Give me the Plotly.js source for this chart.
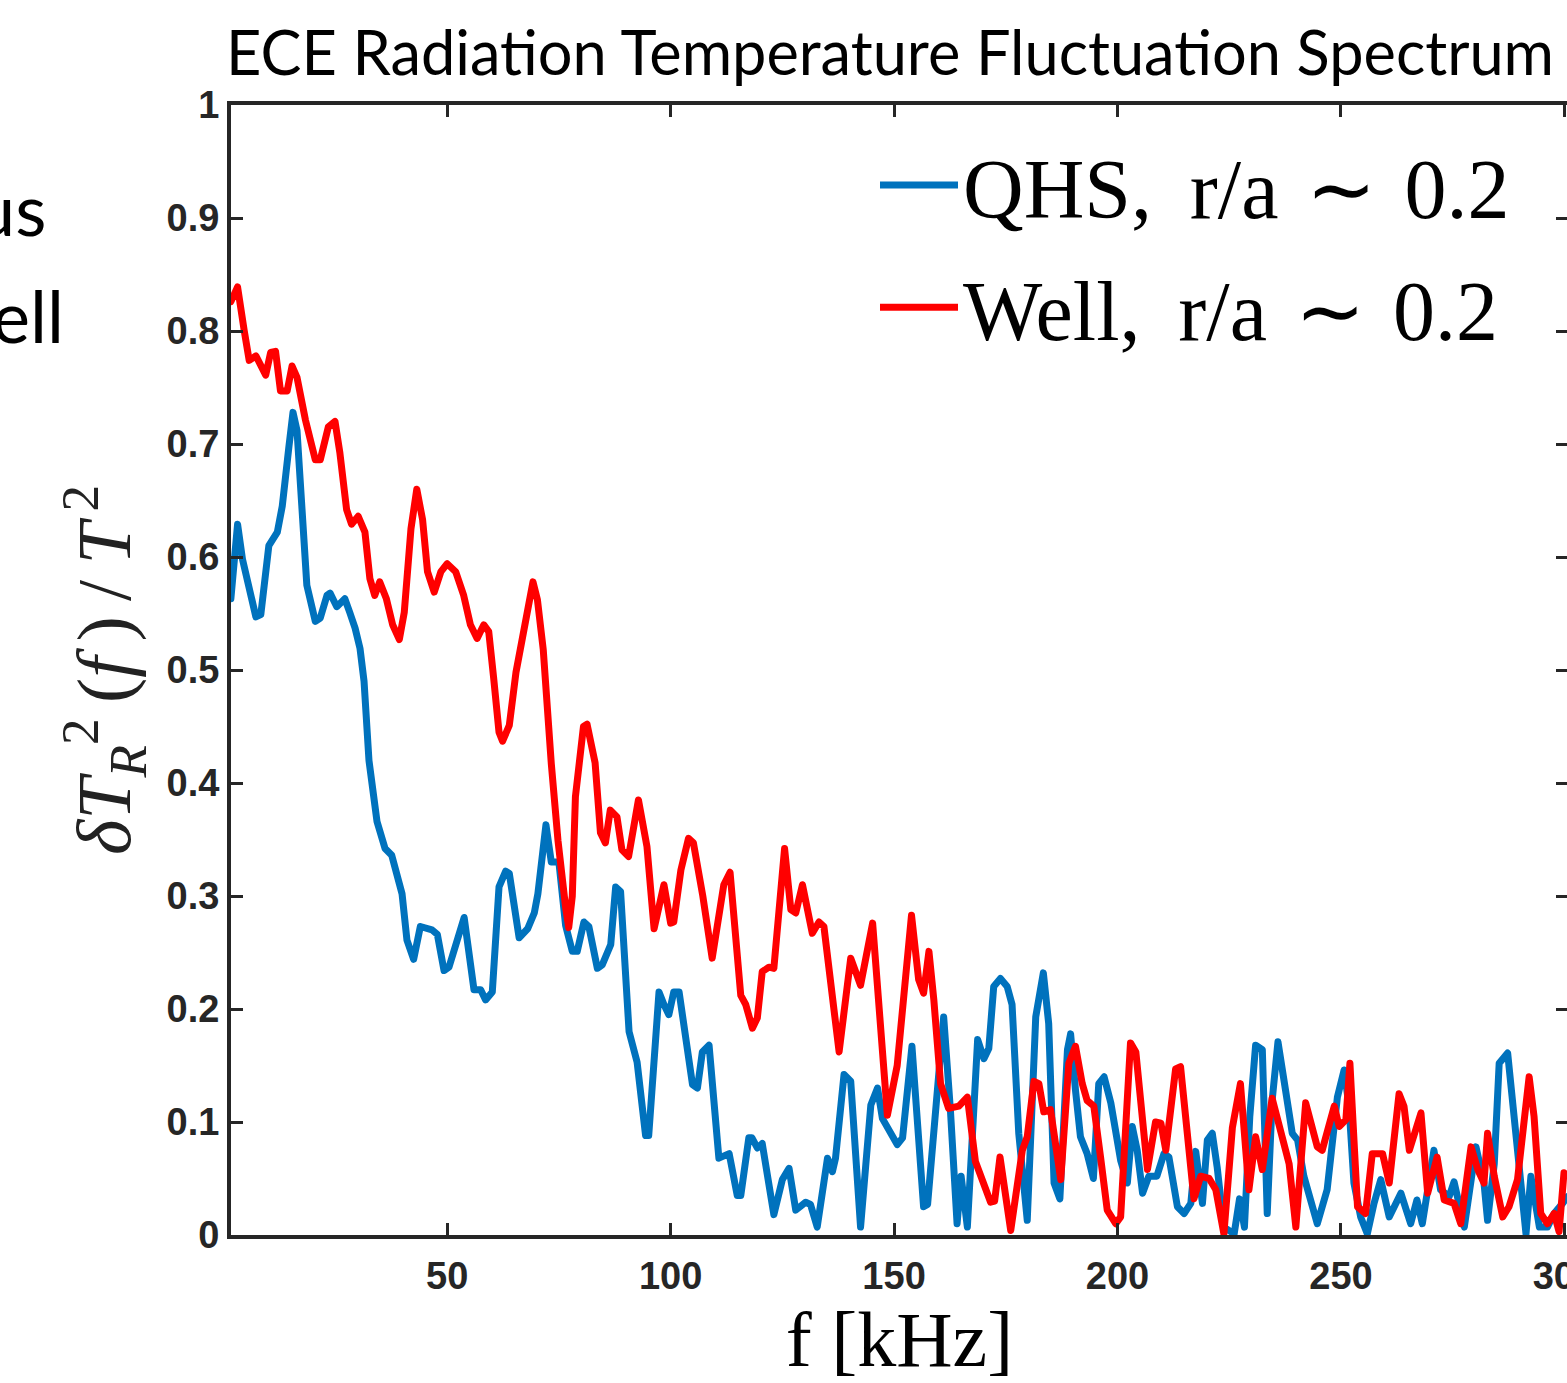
<!DOCTYPE html>
<html><head><meta charset="utf-8">
<script src="https://cdn.plot.ly/plotly-3.0.1.min.js"></script>
<style>
html,body{margin:0;padding:0;overflow:hidden;background:#fff;width:1567px;height:1383px}
.scatterlayer path.js-line{stroke-linejoin:round;stroke-linecap:round}
</style>
</head><body><div id="chart" style="width:1600px;height:1383px"></div>
<script>
const chartTitle = 'ECE Radiation Temperature Fluctuation Spectrum';
const seriesNames = ['QHS,\u2009 r/a \u200A\u223C\u200A 0.2', 'Well,\u2009 r/a \u200A\u223C\u200A 0.2'];
const xTickVals = [50, 100, 150, 200, 250, 300];
const yTickVals = [0, 0.1, 0.2, 0.3, 0.4, 0.5, 0.6, 0.7, 0.8, 0.9, 1];

const qhsFreq = [1.6,3.1,4.2,6.1,7.2,8.3,10.1,12.0,13.1,14.6,15.5,16.4,17.5,18.6,20.5,21.6,23.1,23.8,25.3,27.1,28.2,29.4,30.5,31.4,32.5,34.3,36.1,37.6,39.9,41.0,42.5,44.0,46.6,47.8,49.3,50.4,53.8,56.0,57.5,58.6,60.1,61.6,63.1,63.9,66.1,68.0,69.5,70.3,72.1,73.3,75.0,76.5,78.0,79.1,80.6,81.7,83.6,84.7,86.6,87.7,88.8,90.7,92.5,94.4,95.1,97.4,98.5,99.6,100.7,101.9,104.9,106.0,107.1,108.6,110.8,113.1,114.9,115.7,117.5,118.2,119.4,120.5,123.1,125.0,126.5,128.0,130.2,131.3,132.8,135.1,136.2,136.9,138.8,140.3,142.5,144.8,146.3,147.4,150.7,151.9,154.0,156.6,157.5,159.7,161.1,162.6,164.1,165.0,166.4,168.7,170.1,171.2,172.3,173.8,175.3,176.4,177.9,179.8,181.7,183.4,184.6,185.8,187.1,188.8,189.5,190.6,191.7,193.2,194.6,195.8,197.0,198.5,200.7,202.2,203.3,204.4,205.6,207.0,208.8,210.4,211.5,213.4,214.9,216.4,217.5,219.0,220.1,221.2,222.3,223.8,226.1,227.3,228.4,229.6,230.9,232.4,233.5,234.6,235.9,237.6,239.1,240.3,241.7,244.7,246.9,249.2,250.7,251.8,252.9,254.4,255.9,257.4,258.9,260.8,263.4,265.6,267.0,268.2,270.8,272.3,274.2,275.3,277.6,280.2,282.0,282.8,284.3,285.4,287.3,289.5,291.4,292.5,294.4,296.2,297.7,299.6,300.7];
const qhsVal = [0.563,0.629,0.598,0.569,0.547,0.549,0.610,0.622,0.645,0.698,0.728,0.712,0.639,0.575,0.543,0.546,0.566,0.568,0.556,0.563,0.551,0.537,0.519,0.49,0.42,0.366,0.342,0.336,0.302,0.261,0.244,0.273,0.270,0.266,0.234,0.237,0.281,0.217,0.217,0.208,0.215,0.308,0.322,0.320,0.263,0.271,0.285,0.302,0.363,0.330,0.330,0.274,0.251,0.251,0.277,0.273,0.236,0.239,0.257,0.308,0.304,0.180,0.153,0.088,0.088,0.215,0.204,0.195,0.215,0.215,0.133,0.130,0.162,0.168,0.068,0.072,0.035,0.035,0.086,0.086,0.077,0.081,0.018,0.049,0.059,0.022,0.029,0.027,0.007,0.068,0.056,0.068,0.142,0.136,0.007,0.115,0.130,0.103,0.080,0.086,0.167,0.025,0.027,0.134,0.193,0.111,0.010,0.052,0.007,0.173,0.156,0.165,0.220,0.227,0.220,0.204,0.090,0.013,0.193,0.232,0.187,0.046,0.032,0.164,0.178,0.128,0.087,0.072,0.050,0.134,0.140,0.117,0.066,0.046,0.096,0.075,0.037,0.052,0.052,0.072,0.069,0.025,0.019,0.028,0.074,0.028,0.084,0.090,0.060,0.007,0.001,0.032,0.007,0.105,0.168,0.164,0.019,0.119,0.171,0.128,0.090,0.084,0.052,0.010,0.040,0.122,0.146,0.114,0.046,0.016,0.001,0.028,0.049,0.016,0.037,0.010,0.031,0.010,0.075,0.040,0.034,0.047,0.007,0.078,0.046,0.013,0.063,0.152,0.161,0.075,0.001,0.052,0.007,0.007,0.019,0.028,0.034];

const wellFreq = [1.6,3.1,4.6,5.7,7.2,9.4,10.5,11.6,12.7,14.2,15.3,16.4,18.3,20.5,21.6,23.4,24.9,26.0,27.5,28.6,30.1,31.6,32.7,33.8,34.9,36.4,37.8,39.3,40.4,41.9,43.2,44.5,45.6,47.1,48.6,50.0,51.9,53.7,55.2,56.7,58.2,59.3,60.4,61.6,62.4,63.9,65.4,66.8,68.2,69.2,70.2,71.5,73.3,74.8,76.5,77.2,78.0,78.7,80.5,81.3,83.1,84.3,85.4,86.5,88.0,89.1,90.6,92.8,94.7,96.3,98.5,100.0,100.7,102.3,104.0,105.1,107.2,109.3,111.9,113.3,115.7,116.8,118.3,119.4,120.5,122.0,123.1,125.5,126.9,128.0,129.5,131.7,133.2,134.3,137.7,140.3,142.5,145.2,148.5,150.7,153.9,155.5,156.6,157.8,158.9,160.4,162.2,164.5,166.4,168.2,171.6,172.5,173.7,176.1,178.7,179.8,181.3,182.4,183.5,185.0,187.3,189.1,190.6,192.1,193.2,194.7,196.2,197.7,199.6,200.7,202.9,204.1,206.7,208.5,209.7,210.8,213.0,214.1,217.1,218.6,220.5,222.0,223.8,225.7,227.5,229.4,230.9,232.4,234.6,236.9,238.4,239.9,242.1,244.7,245.8,248.5,249.6,251.1,252.0,253.7,255.5,257.0,259.3,260.8,263.0,264.1,265.3,267.9,269.4,271.5,273.1,275.3,276.8,279.1,280.6,282.0,282.8,284.3,286.2,287.6,289.5,292.1,293.2,294.7,296.2,297.7,298.8,299.9];
const wellVal = [0.826,0.839,0.800,0.774,0.778,0.761,0.781,0.782,0.747,0.747,0.769,0.759,0.721,0.686,0.686,0.715,0.720,0.692,0.642,0.629,0.636,0.622,0.581,0.566,0.578,0.563,0.540,0.527,0.551,0.625,0.660,0.633,0.587,0.569,0.587,0.594,0.587,0.566,0.540,0.528,0.540,0.534,0.493,0.445,0.437,0.451,0.498,0.530,0.562,0.578,0.562,0.518,0.417,0.349,0.290,0.272,0.300,0.388,0.450,0.452,0.418,0.356,0.347,0.376,0.370,0.341,0.335,0.385,0.344,0.271,0.310,0.276,0.277,0.323,0.351,0.347,0.300,0.245,0.310,0.321,0.212,0.204,0.183,0.192,0.233,0.237,0.236,0.342,0.288,0.285,0.310,0.267,0.277,0.273,0.162,0.245,0.221,0.276,0.106,0.150,0.283,0.226,0.214,0.251,0.208,0.134,0.112,0.114,0.122,0.065,0.029,0.030,0.069,0.004,0.075,0.087,0.136,0.134,0.109,0.111,0.049,0.152,0.167,0.134,0.119,0.114,0.069,0.022,0.010,0.016,0.170,0.162,0.058,0.100,0.099,0.075,0.147,0.149,0.032,0.052,0.050,0.040,0.001,0.095,0.134,0.040,0.087,0.058,0.121,0.087,0.063,0.007,0.117,0.078,0.075,0.114,0.096,0.102,0.152,0.025,0.019,0.072,0.072,0.046,0.125,0.114,0.075,0.108,0.037,0.069,0.031,0.028,0.010,0.078,0.058,0.046,0.090,0.052,0.016,0.025,0.049,0.140,0.105,0.019,0.010,0.019,0.003,0.055];

const axisColor = '#262626';
const tickFont = {family: 'Liberation Sans, Arial, sans-serif', size: 38, color: axisColor, weight: 'bold'};
const serif = 'Liberation Serif, Times New Roman, serif';

const traces = [
  {x: qhsFreq, y: qhsVal, name: seriesNames[0], type: 'scatter', mode: 'lines',
   line: {color: '#0072BD', width: 7}, legendgroup: 'a'},
  {x: wellFreq, y: wellVal, name: seriesNames[1], type: 'scatter', mode: 'lines',
   line: {color: '#FF0000', width: 7}, legendgroup: 'b'}
];

const axisCommon = {
  showline: true, linecolor: axisColor, linewidth: 4, mirror: 'ticks',
  ticks: 'inside', ticklen: 12, tickwidth: 3, tickcolor: axisColor,
  showgrid: false, zeroline: false, tickfont: tickFont, automargin: false
};

const layout = {
  width: 1600, height: 1383,
  margin: {l: 231, r: 32, t: 105, b: 148},
  paper_bgcolor: '#fff', plot_bgcolor: '#fff',
  title: {text: chartTitle, font: {family: 'Lato, Open Sans, sans-serif', size: 61.3, color: '#000'},
          xref: 'container', x: 226/1600, xanchor: 'left', yref: 'container', y: 1 - 54/1383, yanchor: 'middle'},
  xaxis: Object.assign({}, axisCommon, {
    range: [1.63, 300.8], tickmode: 'array', tickvals: xTickVals, ticktext: xTickVals.map(String),
    ticklabelstandoff: 4,
    title: {text: 'f [kHz]', font: {family: serif, size: 78, color: '#000'}, standoff: 10}
  }),
  yaxis: Object.assign({}, axisCommon, {
    range: [0, 1], tickmode: 'array', tickvals: yTickVals, ticktext: yTickVals.map(String),
    title: {text: '<i>\u03B4T</i><sub><i>R</i></sub><sup>2</sup>\u2009(<i>f\u2009</i>)\u2009/\u2009<i>T</i><sup>\u20092</sup>',
            font: {family: serif, size: 76, color: '#222'}, standoff: 12}
  }),
  showlegend: true,
  legend: {x: (875 - 231)/1337, y: 1 - (124 - 105)/1130, xanchor: 'left', yanchor: 'top',
           bgcolor: 'rgba(0,0,0,0)', borderwidth: 0, itemwidth: 78, tracegroupgap: 10,
           font: {family: serif, size: 84, color: '#000'}},
  annotations: [
    {text: 'us', xref: 'paper', yref: 'paper', x: (48 - 231)/1337, y: 1 - (208 - 105)/1130,
     xanchor: 'right', yanchor: 'middle', showarrow: false,
     font: {family: 'Lato, Open Sans, sans-serif', size: 72, color: '#000'}},
    {text: 'ell', xref: 'paper', yref: 'paper', x: (66 - 231)/1337, y: 1 - (315 - 105)/1130,
     xanchor: 'right', yanchor: 'middle', showarrow: false,
     font: {family: 'Lato, Open Sans, sans-serif', size: 72, color: '#000'}}
  ]
};

Plotly.newPlot('chart', traces, layout, {displayModeBar: false, staticPlot: true});
</script></body></html>
